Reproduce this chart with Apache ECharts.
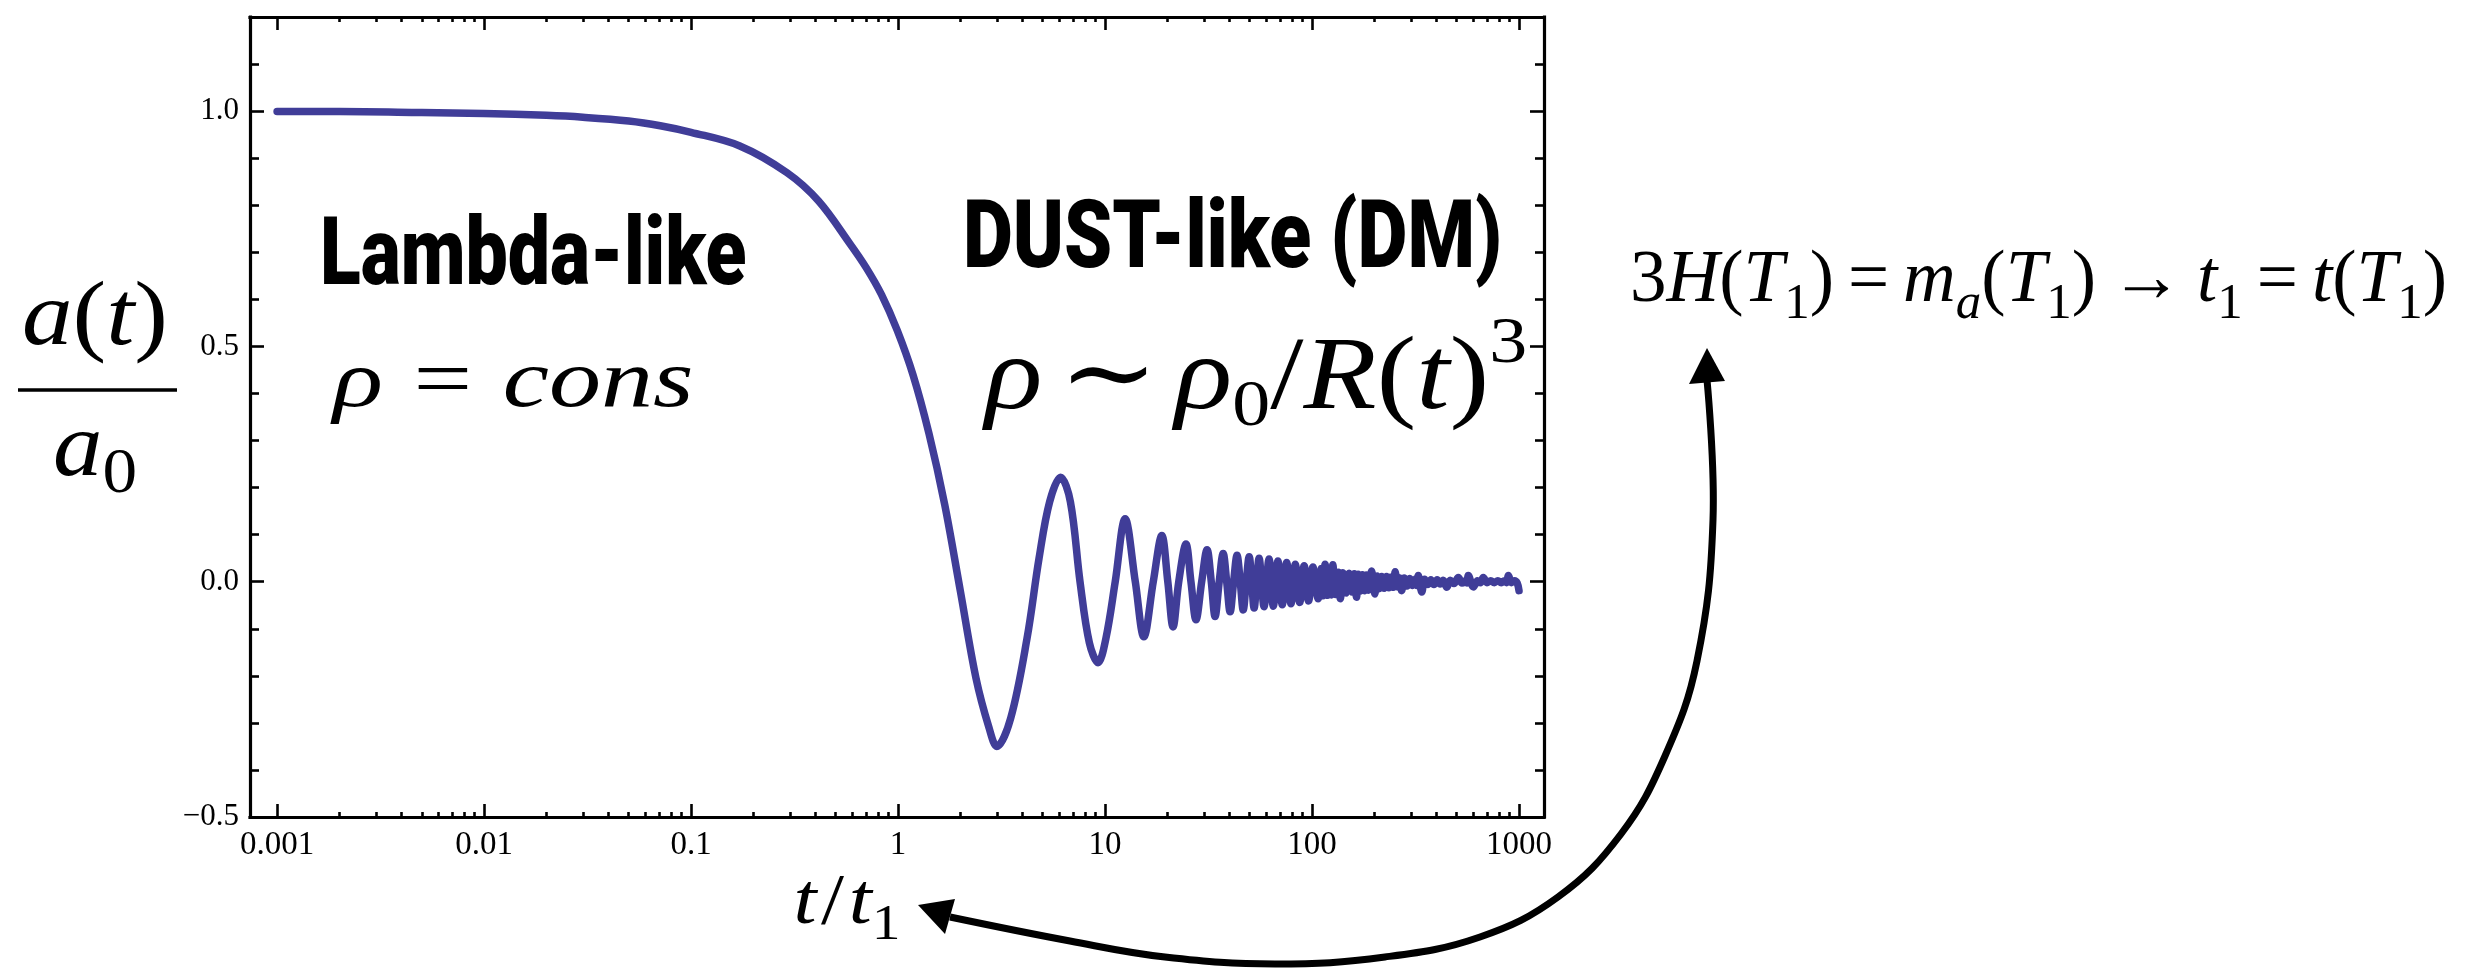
<!DOCTYPE html>
<html>
<head>
<meta charset="utf-8">
<script src="https://cdn.jsdelivr.net/npm/echarts@6/dist/echarts.min.js"></script>
<style>
html,body{margin:0;padding:0;background:#ffffff;}
#chart{width:2468px;height:970px;}
</style>
</head>
<body>
<div id="chart"></div>
<script>
// ---------------- data ----------------
const xTickValues = [0.001, 0.01, 0.1, 1, 10, 100, 1000];
const xTickLabels = ['0.001', '0.01', '0.1', '1', '10', '100', '1000'];
const yTickValues = [-0.5, 0, 0.5, 1.0];
const yTickLabels = ['\u22120.5', '0.0', '0.5', '1.0'];
const yMinorValues = [-0.4, -0.3, -0.2, -0.1, 0.1, 0.2, 0.3, 0.4, 0.6, 0.7, 0.8, 0.9, 1.1];
const xMinorMultipliers = [2, 3, 4, 5, 6, 7, 8, 9];

// smooth part of a(t)/a0 versus t/t1
const tEarly = [0.001, 0.002, 0.005, 0.01, 0.02, 0.03, 0.05, 0.071, 0.1, 0.172, 0.291, 0.413, 0.586, 0.7, 0.832, 0.991, 1.18, 1.41, 1.68, 2.0, 2.38, 2.75, 3.0, 3.5, 4.2, 4.8, 5.4, 6.1, 6.8, 7.57, 8.4, 9.25, 10.1, 11.2, 12.5, 14.0, 15.4, 17.1, 18.8, 20.1, 21.3, 22.7, 24.6, 26.0, 27.5, 29.3, 31.1, 32.6, 34.0, 35.6, 37.2, 38.7, 40.2, 41.8, 43.4, 45.0, 46.5, 48.1, 49.7, 51.1, 52.5, 54.0, 55.5, 57.0, 58.6];
const aEarly = [0.999, 0.999, 0.997, 0.995, 0.991, 0.987, 0.979, 0.969, 0.955, 0.926, 0.869, 0.809, 0.718, 0.668, 0.61, 0.534, 0.44, 0.315, 0.164, -0.02, -0.205, -0.31, -0.35, -0.29, -0.12, 0.05, 0.17, 0.222, 0.17, 0.0, -0.13, -0.172, -0.12, 0.0, 0.134, 0.0, -0.117, 0.0, 0.098, 0.0, -0.096, 0.0, 0.080, 0.0, -0.081, 0.0, 0.068, 0.0, -0.074, 0.0, 0.060, 0.0, -0.064, 0.0, 0.056, 0.0, -0.060, 0.0, 0.053, 0.0, -0.056, 0.0, 0.050, 0.0, -0.053];

// dense (aliased) oscillation part: extrema
const tLate = [62, 65, 68.4, 71.8, 75.4, 79.1, 83, 87.2, 91.6, 96.2, 101, 107, 111, 113, 115.6, 119, 122, 124, 126, 130, 134, 137, 141, 146, 151, 156, 160, 164, 167, 171, 175, 179, 183, 187, 194, 201, 206, 211, 217, 223, 229, 235, 241, 247, 252, 259, 265, 271, 279, 288, 297, 306, 316, 321, 326, 339, 350, 362, 375, 388, 402, 416, 430, 448, 465, 485, 509, 530, 550, 560, 569, 602, 630, 650, 672, 700, 730, 760, 790, 820, 850, 870, 889, 920, 950, 980, 1000];
const aLate = [0.048, -0.052, 0.044, -0.049, 0.041, -0.047, 0.037, -0.044, 0.034, -0.041, 0.031, -0.036, 0.028, -0.030, 0.037, -0.029, 0.027, -0.028, 0.036, -0.027, 0.020, -0.036, 0.019, -0.024, 0.018, -0.022, 0.017, -0.033, 0.016, -0.020, 0.015, -0.019, 0.014, -0.018, 0.023, -0.026, 0.012, -0.015, 0.011, -0.014, 0.011, -0.013, 0.010, -0.012, 0.021, -0.011, 0.008, -0.019, 0.008, -0.009, 0.007, -0.008, 0.006, -0.008, 0.013, -0.022, 0.005, -0.006, 0.004, -0.006, 0.004, -0.005, 0.003, -0.012, 0.003, -0.004, 0.009, -0.003, 0.002, -0.003, 0.013, -0.011, 0.002, -0.002, 0.009, -0.002, 0.002, -0.002, 0.002, -0.002, 0.002, -0.002, 0.013, -0.002, 0.002, -0.003, -0.019];

// ---------------- build ----------------
const SERIF = "'Liberation Serif', 'DejaVu Serif', serif";
const LINE_COLOR = '#403d98';
const xMin = 0.00074, xMax = 1320;
const yMin = -0.5, yMax = 1.2;

const xMinorValues = [];
xTickValues.slice(0, -1).forEach(d => xMinorMultipliers.forEach(m => xMinorValues.push(+(d * m).toPrecision(3))));

const seriesData = [];
tEarly.forEach((t, i) => seriesData.push([t, aEarly[i]]));
tLate.forEach((t, i) => seriesData.push([t, aLate[i]]));

function xLabel(v) {
  const i = xTickValues.findIndex(t => Math.abs(Math.log10(t) - Math.log10(v)) < 1e-6);
  return i >= 0 ? xTickLabels[i] : '';
}
function yLabel(v) {
  const i = yTickValues.findIndex(t => Math.abs(t - v) < 1e-9);
  return i >= 0 ? yTickLabels[i] : '';
}
const frameLine = {color: '#000', width: 3.2, cap: 'square'};
const tickStyle = {color: '#000', width: 2.6};

function xAxisDef(pos, major) {
  return {
    type: 'log', logBase: 10, position: pos, min: xMin, max: xMax,
    axisLine: {show: major, onZero: false, lineStyle: frameLine},
    axisTick: {show: true, inside: true, length: major ? 13 : 5, lineStyle: tickStyle,
               customValues: major ? xTickValues : xMinorValues},
    axisLabel: (major && pos === 'bottom') ? {show: true, customValues: xTickValues, formatter: xLabel,
               fontFamily: SERIF, fontSize: 33, color: '#000', margin: 12} : {show: false},
    splitLine: {show: false}, minorTick: {show: false}, minorSplitLine: {show: false}
  };
}
function yAxisDef(pos, major) {
  return {
    type: 'value', position: pos, min: yMin, max: yMax, interval: 0.5,
    axisLine: {show: major, onZero: false, lineStyle: frameLine},
    axisTick: {show: true, inside: true, length: major ? 14 : 9, lineStyle: tickStyle,
               customValues: major ? yTickValues : yMinorValues},
    axisLabel: (major && pos === 'left') ? {show: true, customValues: yTickValues, formatter: yLabel,
               fontFamily: SERIF, fontSize: 31, color: '#000', margin: 11} : {show: false},
    splitLine: {show: false}, minorTick: {show: false}, minorSplitLine: {show: false}
  };
}

// rich-text math helper
function mathRich(S, s, subPad, supPad, opPad) {
  const base = {fontFamily: SERIF, fill: '#000', verticalAlign: 'middle'};
  return {
    i: Object.assign({}, base, {fontStyle: 'italic', fontSize: S}),
    r: Object.assign({}, base, {fontSize: S}),
    op: Object.assign({}, base, {fontSize: S, padding: [0, opPad, 0, opPad]}),
    sub: Object.assign({}, base, {fontSize: s, padding: [subPad, 0, 0, 0]}),
    subi: Object.assign({}, base, {fontStyle: 'italic', fontSize: s, padding: [subPad, 0, 0, 0]}),
    sup: Object.assign({}, base, {fontSize: s, padding: [0, 0, supPad, 0]})
  };
}
function mathText(x, baseline, S, text, rich, align, scaleX) {
  return {
    type: 'text', x: x, y: baseline - 0.34 * S, scaleX: scaleX || 1, silent: true,
    style: {text: text, rich: rich, fill: '#000', fontFamily: SERIF, fontSize: S,
            align: align || 'left', verticalAlign: 'middle',
            textAlign: align || 'left', textVerticalAlign: 'middle'}
  };
}
function boldText(x, baseline, S, text, scaleX) {
  return {
    type: 'text', x: x, y: baseline - 0.342 * S, scaleX: scaleX, silent: true,
    style: {text: text, fill: '#000', fontFamily: 'Roboto', fontWeight: 900, fontSize: S,
            align: 'left', verticalAlign: 'middle', textAlign: 'left', textVerticalAlign: 'middle'}
  };
}

const graphics = [
  // y-axis name: a(t) / a0
  mathText(95, 351, 92, '{i|a}{r|(}{i|t}{r|)}', mathRich(92, 64, 48, 0, 0), 'center', 1.1),
  {type: 'line', silent: true, shape: {x1: 18, y1: 390, x2: 177, y2: 390}, style: {stroke: '#000', lineWidth: 3.5}},
  mathText(95, 482, 90, '{i|a}{sub|0}', mathRich(90, 63, 48, 0, 0), 'center', 1.1),
  // x-axis name t/t1
  mathText(847, 929, 72, '{i|t}{op|/}{i|t}{sub|1}', mathRich(72, 50, 43, 0, 4), 'center', 1.15),
  // annotations
  boldText(320, 293, 94, 'Lambda-like', 0.80),
  mathText(333, 412, 82, '{i|\u03C1}{op|=}{i|cons}', mathRich(82, 58, 40, 0, 24), 'left', 1.27),
  boldText(963, 276, 94, 'DUST-like (DM)', 0.82),
  mathText(985, 416, 104, '{i|\u03C1}{op|\u223C}{i|\u03C1}{sub|0}{r|/}{i|R}{r|(}{i|t}{r|)}{sup|3}', mathRich(104, 66, 54, 72, 14), 'left', 1.15),
  mathText(1630, 307, 73, '{r|3}{i|H}{r|(}{i|T}{sub|1}{r|)}{op|=}{i|m}{subi|a}{r|(}{i|T}{sub|1}{r|)}{op|\u2192}{i|t}{sub|1}{op|=}{i|t}{r|(}{i|T}{sub|1}{r|)}', mathRich(73, 51, 44, 0, 14), 'left', 1.0),
  // curved arrow
  {type: 'polyline', silent: true,
   shape: {points: [[1707, 380], [1713, 520], [1697, 661], [1665, 756], [1621, 834], [1558, 897], [1480, 937], [1385, 957], [1275, 964], [1165, 957], [1070, 941], [950, 917]], smooth: 0.4},
   style: {stroke: '#000', lineWidth: 7, fill: null}},
  {type: 'polygon', silent: true, shape: {points: [[1707, 348], [1689, 384], [1725, 381]]}, style: {fill: '#000'}},
  {type: 'polygon', silent: true, shape: {points: [[918, 905], [955, 899], [945, 934]]}, style: {fill: '#000'}}
];

const chart = echarts.init(document.getElementById('chart'), null, {renderer: 'canvas'});
chart.setOption({
  animation: false,
  backgroundColor: '#ffffff',
  grid: {left: 250, right: 924, top: 17, bottom: 153, containLabel: false, outerBoundsMode: 'none'},
  xAxis: [xAxisDef('bottom', true), xAxisDef('bottom', false), xAxisDef('top', true), xAxisDef('top', false)],
  yAxis: [yAxisDef('left', true), yAxisDef('left', false), yAxisDef('right', true), yAxisDef('right', false)],
  series: [{
    type: 'line', xAxisIndex: 0, yAxisIndex: 0, data: seriesData,
    showSymbol: false, symbol: 'none', smooth: 0.35, silent: true,
    lineStyle: {color: LINE_COLOR, width: 7.5, join: 'round', cap: 'round'}
  }],
  graphic: {elements: graphics}
});
</script>
</body>
</html>
